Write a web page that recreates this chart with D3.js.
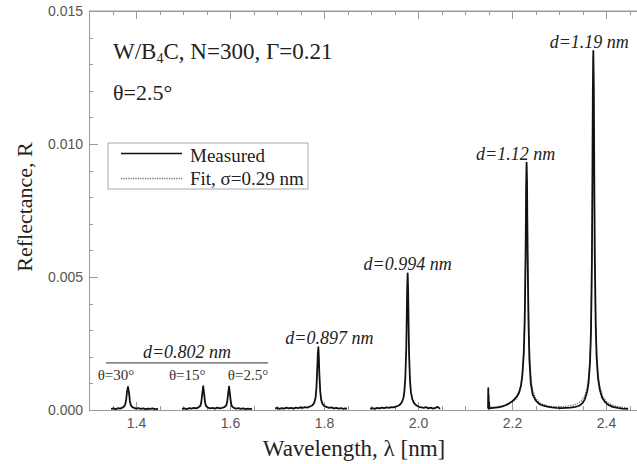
<!DOCTYPE html>
<html lang="en">
<head>
<meta charset="utf-8">
<title>W/B4C reflectance</title>
<script type="text/javascript" src="https://d3js.org/d3.v7.min.js"></script>
<style>
    body { margin: 0; background: #fff; }
    .axis path, .axis line { fill: none; stroke: #9a9a9a; shape-rendering: crispEdges; }
    .axis text { font-family: "Liberation Sans", Arial, sans-serif; font-size: 14px; fill: #555; }
    .serif { font-family: "Liberation Serif", "Times New Roman", serif; fill: #222; }
</style>
</head>
<body>
<div id="chart"></div>
<script type="text/javascript">

// measured spectra, [wavelength nm, reflectance], one array per detector scan
var scan802a = [[1.347,0.00004],[1.352,0.00006],[1.357,0.00003],[1.362,0.00007],[1.366,0.00005],[1.370,0.00008],
    [1.374,0.00012],[1.377,0.00020],[1.379,0.00038],[1.381,0.00070],[1.383,0.00087],[1.385,0.00066],[1.387,0.00034],
    [1.389,0.00018],[1.392,0.00011],[1.396,0.00008],[1.400,0.00005],[1.405,0.00007],[1.410,0.00004],[1.415,0.00006],
    [1.420,0.00003],[1.425,0.00005],[1.430,0.00004],[1.435,0.00006],[1.440,0.00003],[1.447,0.00004]];

var scan802b = [[1.498,0.00004],[1.503,0.00006],[1.508,0.00003],[1.513,0.00007],[1.518,0.00005],[1.523,0.00008],
    [1.528,0.00006],[1.533,0.00010],[1.537,0.00016],[1.539,0.00030],[1.541,0.00062],[1.543,0.00090],[1.545,0.00060],
    [1.547,0.00028],[1.549,0.00015],[1.553,0.00009],[1.558,0.00006],[1.563,0.00008],[1.568,0.00005],[1.573,0.00009],
    [1.578,0.00006],[1.583,0.00008],[1.588,0.00011],[1.592,0.00017],[1.594,0.00030],[1.596,0.00062],[1.598,0.00088],
    [1.600,0.00058],[1.602,0.00027],[1.604,0.00014],[1.608,0.00008],[1.613,0.00005],[1.618,0.00007],[1.623,0.00004],
    [1.628,0.00006],[1.633,0.00003],[1.638,0.00005],[1.643,0.00004],[1.647,0.00003]];

var scan897 = [[1.696,0.00005],[1.700,0.00008],[1.705,0.00004],[1.710,0.00007],[1.715,0.00005],[1.720,0.00009],
    [1.725,0.00006],[1.730,0.00008],[1.735,0.00005],[1.740,0.00009],[1.745,0.00007],[1.750,0.00010],[1.755,0.00008],
    [1.760,0.00011],[1.765,0.00009],[1.770,0.00013],[1.775,0.00017],[1.779,0.00026],[1.782,0.00045],[1.784,0.00085],
    [1.786,0.00170],[1.787,0.00215],[1.788,0.00236],[1.789,0.00200],[1.790,0.00140],[1.792,0.00070],[1.794,0.00038],
    [1.797,0.00022],[1.801,0.00015],[1.806,0.00011],[1.811,0.00008],[1.816,0.00010],[1.821,0.00006],[1.826,0.00008],
    [1.831,0.00005],[1.836,0.00007],[1.841,0.00004],[1.845,0.00006],[1.849,0.00005]];

var scan994 = [[1.898,0.00005],[1.903,0.00007],[1.908,0.00004],[1.913,0.00008],[1.918,0.00006],[1.923,0.00009],
    [1.928,0.00007],[1.933,0.00010],[1.938,0.00008],[1.943,0.00011],[1.948,0.00010],[1.953,0.00013],[1.958,0.00016],
    [1.962,0.00021],[1.966,0.00030],[1.969,0.00045],[1.971,0.00070],[1.973,0.00120],[1.975,0.00230],[1.976,0.00340],
    [1.977,0.00460],[1.978,0.00514],[1.979,0.00450],[1.980,0.00320],[1.981,0.00210],[1.983,0.00110],[1.985,0.00066],
    [1.988,0.00040],[1.992,0.00025],[1.997,0.00017],[2.002,0.00012],[2.007,0.00010],[2.012,0.00008],[2.017,0.00011],
    [2.022,0.00006],[2.027,0.00009],[2.032,0.00005],[2.037,0.00008],[2.042,0.00012],[2.047,0.00004]];

var scanLong = [[2.1490,0.00006],[2.1495,0.00082],[2.1500,0.00010],[2.1503,0.00055],[2.1507,0.00005],[2.1512,0.00030],
    [2.152,0.00007],[2.155,0.00007],[2.160,0.00008],[2.165,0.00009],[2.170,0.00010],[2.175,0.00012],[2.180,0.00014],
    [2.185,0.00017],[2.190,0.00021],[2.195,0.00026],[2.200,0.00032],[2.205,0.00040],[2.210,0.00050],[2.215,0.00066],
    [2.219,0.00090],[2.222,0.00130],[2.225,0.00210],[2.227,0.00330],[2.229,0.00580],[2.230,0.00820],[2.231,0.00930],
    [2.232,0.00850],[2.233,0.00620],[2.235,0.00340],[2.237,0.00190],[2.240,0.00100],[2.244,0.00058],[2.250,0.00037],
    [2.257,0.00024],[2.265,0.00017],[2.275,0.00013],[2.285,0.00010],[2.295,0.00008],[2.305,0.00007],[2.315,0.00008],
    [2.325,0.00009],[2.335,0.00012],[2.343,0.00016],[2.350,0.00026],[2.355,0.00040],[2.360,0.00070],[2.363,0.00105],
    [2.366,0.00180],[2.368,0.00290],[2.370,0.00560],[2.371,0.00850],[2.372,0.01200],[2.373,0.01350],[2.374,0.01220],
    [2.375,0.00900],[2.376,0.00600],[2.378,0.00330],[2.380,0.00200],[2.383,0.00120],[2.387,0.00075],[2.392,0.00045],
    [2.398,0.00030],[2.405,0.00019],[2.414,0.00012],[2.425,0.00008],[2.435,0.00005],[2.447,0.00004]];

// fit, sigma = 0.29 nm
var fitLong = [[2.150,0.00010],[2.160,0.00011],[2.170,0.00013],[2.180,0.00016],[2.190,0.00021],[2.200,0.00029],
    [2.208,0.00040],[2.214,0.00058],[2.219,0.00090],[2.222,0.00135],[2.225,0.00230],[2.227,0.00380],[2.229,0.00640],
    [2.230,0.00840],[2.231,0.00920],[2.232,0.00860],[2.233,0.00680],[2.235,0.00400],[2.237,0.00240],[2.240,0.00130],
    [2.244,0.00075],[2.250,0.00045],[2.258,0.00028],[2.268,0.00019],[2.280,0.00014],[2.295,0.00012],[2.310,0.00013],
    [2.325,0.00016],[2.337,0.00022],[2.347,0.00033],[2.354,0.00050],[2.360,0.00085],[2.364,0.00140],[2.367,0.00240],
    [2.369,0.00380],[2.371,0.00700],[2.372,0.01050],[2.373,0.01330],[2.374,0.01150],[2.375,0.00850],[2.377,0.00450],
    [2.379,0.00270],[2.382,0.00160],[2.386,0.00095],[2.392,0.00055],[2.400,0.00033],[2.410,0.00021],[2.422,0.00014],
    [2.435,0.00010],[2.447,0.00008]];

// peak annotations
var peakLambda = [1.788, 1.978, 2.231, 2.373];
var peakR = [0.00236, 0.00514, 0.0093, 0.0135];
var peakD = ["0.897", "0.994", "1.12", "1.19"];
var angleLambda = [1.383, 1.543, 1.598];
var angleLabels = ["30", "15", "2.5"];

var yTicks = [0, 0.005, 0.010, 0.015];
var xTicks = [1.4, 1.6, 1.8, 2.0, 2.2, 2.4];

var width = 637, height = 464;

var x = d3.scaleLinear().domain([1.3, 2.5]).range([89, 653]);
var y = d3.scaleLinear().domain([0, 0.015]).range([410, 11]);

var svg = d3.select("#chart").append("svg")
    .attr("width", width)
    .attr("height", height);

// frame
svg.append("line").attr("class", "frame")
    .attr("x1", x(1.3)).attr("x2", x(2.5)).attr("y1", y(0.015)).attr("y2", y(0.015))
    .style("stroke", "#9a9a9a");

// axes, ticks pointing inwards
svg.append("g").attr("class", "axis")
    .attr("transform", "translate(" + x(1.3) + ",0)")
    .call(d3.axisLeft(y).tickValues(d3.range(0, 0.0155, 0.001)).tickSize(-4).tickFormat(""));
svg.append("g").attr("class", "axis")
    .attr("transform", "translate(" + x(1.3) + ",0)")
    .call(d3.axisLeft(y).tickValues(yTicks).tickSize(-9).tickSizeOuter(0).tickPadding(6)
        .tickFormat(d3.format(".3f")));

svg.append("g").attr("class", "axis")
    .attr("transform", "translate(0," + y(0) + ")")
    .call(d3.axisBottom(x).tickValues(d3.range(1.3, 2.5, 0.05)).tickSize(-4).tickFormat(""));
svg.append("g").attr("class", "axis")
    .attr("transform", "translate(0," + y(0) + ")")
    .call(d3.axisBottom(x).tickValues(xTicks).tickSize(-8).tickSizeOuter(0).tickPadding(8)
        .tickFormat(d3.format(".1f")));

svg.append("g").attr("class", "axis")
    .attr("transform", "translate(0," + y(0.015) + ")")
    .call(d3.axisTop(x).tickValues(d3.range(1.3, 2.5, 0.05)).tickSize(-4).tickFormat(""));
svg.append("g").attr("class", "axis")
    .attr("transform", "translate(0," + y(0.015) + ")")
    .call(d3.axisTop(x).tickValues(xTicks).tickSize(-8).tickSizeOuter(0).tickFormat(""));

// curves
var line = d3.line()
    .x(function(d) { return x(d[0]); })
    .y(function(d) { return y(d[1]); });

svg.append("path")
    .datum(fitLong)
    .attr("d", line)
    .style("fill", "none")
    .style("stroke", "#6e6e6e")
    .style("stroke-width", 1.3)
    .style("stroke-dasharray", "1.2,1.2");

[scan802a, scan802b, scan897, scan994, scanLong].forEach(function(s) {
    svg.append("path")
        .datum(s)
        .attr("d", line)
        .style("fill", "none")
        .style("stroke", "#111")
        .style("stroke-width", 1.8)
        .style("stroke-linejoin", "round");
});

// axis titles
svg.append("text").attr("class", "serif")
    .attr("transform", "translate(32," + 207 + ") rotate(-90)")
    .attr("text-anchor", "middle")
    .style("font-size", "22px")
    .text("Reflectance, R");

svg.append("text").attr("class", "serif")
    .attr("x", 354).attr("y", 456)
    .attr("text-anchor", "middle")
    .style("font-size", "23px")
    .text("Wavelength, \u03bb [nm]");

// sample info
var title = svg.append("text").attr("class", "serif")
    .attr("x", 113).attr("y", 59)
    .style("font-size", "23px");
title.append("tspan").text("W/B");
title.append("tspan").attr("dy", 4).style("font-size", "14px").text("4");
title.append("tspan").attr("dy", -4).text("C, N=300, \u0393=0.21");

svg.append("text").attr("class", "serif")
    .attr("x", 113).attr("y", 100)
    .style("font-size", "22px")
    .text("\u03b8=2.5\u00b0");

// legend
var legend = svg.append("g").attr("transform", "translate(108,143)");
legend.append("rect")
    .attr("width", 200).attr("height", 46)
    .style("fill", "#fff").style("stroke", "#a8a8a8").style("stroke-width", 1);
legend.append("line")
    .attr("x1", 13).attr("x2", 74).attr("y1", 10.5).attr("y2", 10.5)
    .style("stroke", "#111").style("stroke-width", 1.6);
legend.append("line")
    .attr("x1", 13).attr("x2", 74).attr("y1", 35.5).attr("y2", 35.5)
    .style("stroke", "#6e6e6e").style("stroke-width", 1.3).style("stroke-dasharray", "1.2,1.2");
legend.append("text").attr("class", "serif")
    .attr("x", 82).attr("y", 19).style("font-size", "19px").text("Measured");
legend.append("text").attr("class", "serif")
    .attr("x", 82).attr("y", 42).style("font-size", "19px").text("Fit, \u03c3=0.29 nm");

// peak labels
var labelDx = [11, 0, -11, -4];
svg.selectAll(".dlabel")
    .data(peakLambda)
    .enter().append("text")
    .attr("class", "dlabel serif")
    .attr("x", function(d, i) { return x(d) + labelDx[i]; })
    .attr("y", function(d, i) { return y(peakR[i]) - 3; })
    .attr("text-anchor", "middle")
    .style("font-size", "18px")
    .style("font-style", "italic")
    .text(function(d, i) { return "d=" + peakD[i] + " nm"; });

// d=0.802 group: bracket line and angle labels
svg.append("line")
    .attr("x1", x(1.336)).attr("x2", x(1.681))
    .attr("y1", y(0.00177)).attr("y2", y(0.00177))
    .style("stroke", "#333").style("stroke-width", 1);
svg.append("text").attr("class", "serif")
    .attr("x", x(1.5085)).attr("y", y(0.00177) - 5)
    .attr("text-anchor", "middle")
    .style("font-size", "18px")
    .style("font-style", "italic")
    .text("d=0.802 nm");

var angleDx = [-12, -16, 19];
svg.selectAll(".alabel")
    .data(angleLambda)
    .enter().append("text")
    .attr("class", "alabel serif")
    .attr("x", function(d, i) { return x(d) + angleDx[i]; })
    .attr("y", y(0.00113))
    .attr("text-anchor", "middle")
    .style("font-size", "15px")
    .style("fill", "#333")
    .text(function(d, i) { return "\u03b8=" + angleLabels[i] + "\u00b0"; });

</script>
</body>
</html>
